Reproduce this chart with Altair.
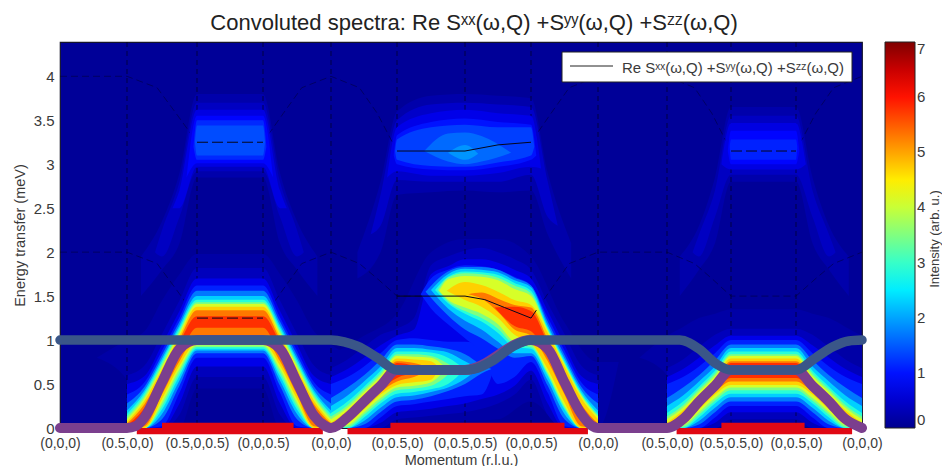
import altair as alt
import pandas as pd

FONT = "Liberation Sans"
INK = "#3a3a3a"
TICK_LABELS = ["(0,0,0)", "(0.5,0,0)", "(0.5,0,0.5)", "(0,0,0.5)", "(0,0,0)", "(0,0.5,0)", "(0,0.5,0.5)",
               "(0,0,0.5)", "(0,0,0)", "(0.5,0,0)", "(0.5,0.5,0)", "(0,0.5,0)", "(0,0,0)"]
TICK_PX = [0, 67, 137, 203, 271, 337, 405, 471, 538, 607, 671, 736, 802]
LEVELS = [0.35, 0.7, 1.1, 1.7, 2.3, 2.9, 3.5, 4.1, 4.7, 5.3, 5.8]

# Low band, first arch (left half; the arch is symmetric in the picture)
P1_Q = [1, 1.25, 1.5, 1.75, 2, 2.5, 3, 3.25, 3.5, 3.75, 4]
P1_HI = [[.6, .71, 1.07, 1.45, 1.82, 1.82], [.5, .59, .95, 1.33, 1.7, 1.7], [.38, .52, .88, 1.26, 1.62, 1.62],
         [.28, .47, .83, 1.21, 1.56, 1.56], [.2, .43, .79, 1.17, 1.5, 1.5], [.16, .4, .76, 1.14, 1.46, 1.46],
         [.13, .37, .73, 1.11, 1.43, 1.43], [.1, .34, .7, 1.08, 1.41, 1.41], [.07, .31, .67, 1.05, 1.38, 1.38],
         [.05, .27, .63, 1.01, 1.34, 1.34], [.03, .23, .59, .97, 1.27, 1.27]]
P1_LO = [[0, 0, 0, .15, .58, .58], [0, 0, 0, .28, .7, .7], [0, 0, .02, .4, .8, .8],
         [0, 0, .1, .48, .85, .85], [0, 0, .16, .54, .88, .88], [0, 0, .21, .59, .9, .9],
         [0, 0, .25, .63, .92, .92], [0, 0, .29, .67, .94, .94], [0, 0, .33, .71, .97, .97],
         [0, .02, .38, .76, 1.03, 1.03], [0, .08, .44, .82, 1.14, 1.14]]

# Low band, third arch
P3_Q = [9, 9.25, 9.5, 9.75, 10, 10.5, 11, 11.25, 11.5, 11.75, 12]
P3_HI = [[.68, .78, .92, 1.06, 1.13, 1.13], [.58, .67, .8, .94, 1.05, 1.05], [.5, .58, .7, .85, 1, 1],
         [.34, .46, .6, .77, .95, .95], [.25, .37, .53, .7, .91, .91], [.17, .3, .47, .65, .87, .87],
         [.13, .26, .44, .62, .84, .84], [.1, .23, .41, .59, .82, .82], [.06, .2, .38, .56, .79, .79],
         [.04, .17, .35, .53, .76, .76], [.02, .14, .33, .5, .74, .74]]
P3_LO = [[0, 0, 0, 0, .1, .1], [0, 0, 0, .06, .18, .18], [0, 0, 0, .12, .25, .25],
         [0, 0, .04, .18, .3, .3], [0, 0, .08, .23, .35, .35], [0, 0, .12, .28, .39, .39],
         [0, .01, .15, .31, .43, .43], [0, .03, .18, .34, .46, .46], [0, .05, .21, .38, .49, .49],
         [0, .07, .24, .41, .53, .53], [0, .09, .27, .44, .57, .57]]

# Middle arch: weakest levels span the whole arch
P2M_Q = [4, 4.25, 4.5, 4.75, 5, 5.25, 5.5, 5.75, 6, 6.25, 6.5, 6.75, 7, 7.25, 7.5, 7.75, 8]
P2M_HI = [[.68, .78, .92, 1.06, 1.13, 1.25, 1.85, 1.95, 2.02, 2.05, 2, 1.92, 1.8, 1.42, 1.07, .71, .6],
          [.58, .67, .8, .94, 1.05, 1.12, 1.75, 1.84, 1.92, 1.92, 1.88, 1.8, 1.7, 1.33, .95, .59, .5]]
P2M_LO = [[0, 0, 0, 0, .1, .12, .14, .16, .18, .22, .28, .38, .55, .15, 0, 0, 0],
          [0, 0, 0, .06, .18, .2, .22, .25, .28, .33, .38, .48, .65, .28, 0, 0, 0]]

# Middle arch: lower lobe (level, last q, pinch energy, hi, lo)
P2A_Q = [4, 4.25, 4.5, 4.75, 5, 5.25, 5.5, 5.75, 6, 6.25]
P2A = [(1.1, 6.45, .7, [.5, .58, .7, .85, 1, 1.02, 1, .98, .98, .95], [0, 0, 0, .12, .25, .27, .3, .33, .36, .38]),
       (1.7, 6.4, .67, [.34, .46, .6, .77, .95, .95, .93, .9, .84, .72], [0, 0, .04, .18, .3, .32, .36, .42, .5, .62]),
       (2.3, 6.2, .68, [.25, .37, .53, .7, .91, .91, .89, .86, .76], [0, 0, .08, .23, .35, .37, .41, .46, .56]),
       (2.9, 6.0, .67, [.17, .3, .47, .65, .87, .87, .86, .8], [0, 0, .12, .28, .39, .41, .44, .5]),
       (3.5, 5.85, .68, [.13, .26, .44, .62, .84, .84, .82], [0, .01, .15, .31, .43, .45, .48]),
       (4.1, 5.72, .68, [.1, .23, .41, .59, .82, .81, .8], [0, .03, .18, .34, .46, .48, .52]),
       (4.7, 5.62, .68, [.06, .2, .38, .56, .79, .78, .76], [0, .05, .21, .38, .49, .52, .55]),
       (5.3, 5.5, .68, [.04, .17, .35, .53, .76, .74], [0, .07, .24, .41, .53, .58]),
       (5.8, 5.38, .68, [.02, .14, .33, .5, .74, .71], [0, .09, .27, .44, .57, .63])]

# Middle arch: upper lobe and right leg (level, first q, pinch energy, hi, lo)
P2B_Q = [5.5, 5.75, 6, 6.25, 6.5, 6.75, 7, 7.25, 7.5, 7.75, 8]
P2B = [(1.1, 5.35, 1.52, [1.7, 1.8, 1.85, 1.84, 1.8, 1.72, 1.62, 1.26, .88, .52, .38], [1.36, 1.18, 1.02, .85, .5, .58, .75, .4, .02, 0, 0]),
       (1.7, 5.42, 1.55, [1.78, 1.83, 1.83, 1.8, 1.71, 1.62, 1.21, .83, .47, .28], [1.28, 1.12, 1.02, .9, .8, .82, .48, .1, 0, 0]),
       (2.3, 5.5, 1.57, [1.75, 1.81, 1.8, 1.77, 1.68, 1.6, 1.17, .79, .43, .2], [1.36, 1.22, 1.12, .98, .85, .85, .54, .16, 0, 0]),
       (2.9, 5.56, 1.57, [1.72, 1.78, 1.77, 1.74, 1.65, 1.56, 1.14, .76, .4, .16], [1.42, 1.3, 1.21, 1.08, .92, .9, .59, .21, 0, 0]),
       (3.5, 5.6, 1.57, [1.71, 1.76, 1.75, 1.71, 1.62, 1.53, 1.12, .74, .38, .14], [1.44, 1.33, 1.25, 1.13, .95, .92, .61, .23, 0, 0]),
       (4.1, 5.62, 1.56, [1.69, 1.73, 1.72, 1.68, 1.58, 1.5, 1.11, .73, .37, .13], [1.46, 1.37, 1.3, 1.18, .98, .95, .63, .25, 0, 0]),
       (4.7, 5.73, 1.56, [1.66, 1.625, 1.55, 1.455, 1.4, 1.08, .7, .34, .1], [1.455, 1.38, 1.25, 1.06, .97, .67, .29, 0, 0]),
       (5.3, 6.05, 1.52, [1.54, 1.47, 1.4, 1.37, 1.01, .63, .27, .05], [1.47, 1.32, 1.12, 1.05, .76, .38, .02, 0]),
       (5.8, 6.45, 1.37, [1.38, 1.33, .97, .59, .23, .03], [1.16, 1.1, .82, .44, .08, 0])]

# Weak high band and faint glow (level, q, hi, lo)
HIGH = [(.22, [1.2, 1.5, 1.75, 2, 2.5, 3, 3.25, 3.5, 3.8], [1.95, 2.35, 2.9, 3.8, 3.8, 3.8, 2.9, 2.35, 1.95], [1.5, 1.8, 2.1, 2.85, 2.85, 2.85, 2.1, 1.8, 1.5]),
        (.4, [1.4, 1.5, 1.75, 2, 2.5, 3, 3.25, 3.5, 3.6], [2, 2.25, 2.8, 3.7, 3.7, 3.7, 2.8, 2.25, 2], [2, 1.95, 2.4, 2.92, 2.92, 2.92, 2.4, 1.95, 2]),
        (.65, [1.65, 1.75, 2, 2.5, 3, 3.25, 3.35], [2.5, 2.7, 3.62, 3.62, 3.62, 2.7, 2.5], [2.5, 2.5, 2.97, 2.97, 2.97, 2.5, 2.5]),
        (.9, [1.85, 2, 2.5, 3, 3.15], [2.85, 3.55, 3.55, 3.55, 2.85], [2.85, 3.01, 3.01, 3.01, 2.85]),
        (1.15, [1.95, 2, 2.5, 3, 3.05], [3.2, 3.5, 3.5, 3.5, 3.2], [3.2, 3.05, 3.05, 3.05, 3.2]),
        (1.4, [1.97, 2, 2.5, 3, 3.03], [3.25, 3.44, 3.44, 3.44, 3.25], [3.25, 3.1, 3.1, 3.1, 3.25]),
        (.22, [4.4, 4.75, 5, 5.5, 6, 6.5, 7, 7.25, 7.6], [2, 2.8, 3.6, 3.78, 3.8, 3.78, 3.75, 2.9, 2.1], [1.7, 2, 2.65, 2.68, 2.7, 2.68, 2.7, 2.2, 1.7]),
        (.45, [4.6, 4.75, 5, 5.5, 6, 6.5, 7, 7.25, 7.4], [2.2, 2.65, 3.5, 3.68, 3.7, 3.68, 3.65, 2.8, 2.3], [2.2, 2.3, 2.82, 2.8, 2.8, 2.8, 2.88, 2.4, 2.3]),
        (.7, [4.85, 5, 5.5, 6, 6.5, 7, 7.15], [2.85, 3.42, 3.58, 3.62, 3.58, 3.55, 2.95], [2.85, 2.92, 2.87, 2.87, 2.9, 2.97, 2.95]),
        (1.0, [4.95, 5, 5.5, 6, 6.5, 7, 7.08], [3.1, 3.33, 3.48, 3.52, 3.48, 3.45, 3.1], [3.1, 3, 2.94, 2.93, 2.97, 3.05, 3.1]),
        (1.3, [4.97, 5, 5.5, 6, 6.5, 7, 7.05], [3.15, 3.28, 3.42, 3.45, 3.42, 3.42, 3.2], [3.15, 3.05, 2.98, 2.97, 3.02, 3.1, 3.2]),
        (1.6, [5.4, 5.75, 6, 6.25, 6.7], [3.15, 3.35, 3.36, 3.32, 3.13], [3.15, 3.03, 3, 3.03, 3.13]),
        (1.9, [5.75, 6, 6.2], [3.13, 3.22, 3.12], [3.13, 3.05, 3.12]),
        (.22, [9.2, 9.5, 9.75, 10, 10.5, 11, 11.25, 11.5, 11.8], [1.95, 2.3, 2.85, 3.65, 3.65, 3.65, 2.85, 2.3, 1.95], [1.5, 1.8, 2.1, 2.8, 2.8, 2.8, 2.1, 1.8, 1.5]),
        (.4, [9.4, 9.5, 9.75, 10, 10.5, 11, 11.25, 11.5, 11.6], [2, 2.2, 2.7, 3.55, 3.55, 3.55, 2.7, 2.2, 2], [2, 1.95, 2.4, 2.88, 2.88, 2.88, 2.4, 1.95, 2]),
        (.65, [9.85, 10, 10.5, 11, 11.15], [3, 3.47, 3.47, 3.47, 3], [3, 2.94, 2.94, 2.94, 3]),
        (.9, [9.95, 10, 10.5, 11, 11.05], [3.15, 3.38, 3.38, 3.38, 3.15], [3.15, 3, 3, 3, 3.15]),
        (1.1, [9.98, 10, 10.5, 11, 11.02], [3.2, 3.28, 3.28, 3.28, 3.2], [3.2, 3.05, 3.05, 3.05, 3.2]),
        (.18, [.55, 1, 1.25, 1.5, 1.75, 2, 3, 3.25, 3.5, 3.75, 4, 4.3], [.8, 1, 1.1, 1.45, 1.75, 1.98, 1.98, 1.75, 1.45, 1.1, .95, .8], [.8, .55, .2, 0, 0, .45, .45, 0, 0, 0, 0, .8]),
        (.18, [3.7, 4, 4.5, 5, 5.5, 6, 6.5, 7, 7.5, 8, 8.3], [.8, .85, 1.05, 1.3, 2, 2.15, 2.15, 1.95, 1.2, .75, .75], [.8, .5, 0, 0, .05, .08, .1, .3, 0, 0, .75]),
        (.18, [8.6, 9, 9.25, 9.5, 9.75, 10, 11, 11.25, 11.5, 11.75, 12], [.8, 1.05, 1.15, 1.25, 1.3, 1.35, 1.35, 1.3, 1.25, 1.15, 1.05], [.8, .6, .2, 0, 0, .03, .03, 0, 0, 0, 0])]

# Thin dispersion curves
UP_Q = [0, 1, 1.43, 1.7, 2, 3, 3.3, 3.57, 4, 4.43, 4.7, 5, 6, 6.5, 7, 7.3, 7.57, 8, 9, 9.43, 9.7, 10, 11, 11.3, 11.57, 12]
UP_E = [4, 4, 3.87, 3.58, 3.25, 3.25, 3.58, 3.87, 4, 3.87, 3.58, 3.15, 3.15, 3.22, 3.25, 3.58, 3.87, 4, 4, 3.87, 3.58, 3.15, 3.15, 3.58, 3.87, 4]
DN_Q = [0, 1, 1.43, 1.7, 2, 3, 3.3, 3.57, 4, 4.43, 4.7, 5, 6, 6.5, 7, 7.3, 7.57, 8, 9, 9.43, 9.7, 10, 11, 11.3, 11.57, 12]
DN_E = [2, 2, 1.87, 1.58, 1.25, 1.25, 1.58, 1.87, 2, 1.87, 1.7, 1.5, 1.5, 1.42, 1.25, 1.58, 1.87, 2, 2, 1.87, 1.7, 1.5, 1.5, 1.7, 1.87, 2]
DARK_SEGS = [("d1", [2, 3], [3.25, 3.25], True), ("d2", [2, 3], [1.25, 1.25], True), ("d3", [10, 11], [3.15, 3.15], True),
             ("s1", [5, 6, 6.5, 7], [3.15, 3.15, 3.22, 3.25], False), ("s2", [5, 6, 6.3, 6.6, 7, 7.08], [1.5, 1.5, 1.46, 1.37, 1.25, 1.34], False)]

# Thick mode lines
PURPLE_Q = [0, 1, 1.12, 1.25, 1.5, 1.75, 2, 3, 3.25, 3.5, 3.75, 3.9, 4, 4.25, 4.5, 4.75, 5, 6, 7, 7.25, 7.5, 7.75, 7.9, 8, 9, 9.25, 9.5, 9.75, 10, 11, 11.25, 11.5, 11.75, 12]
PURPLE_E = [0, 0, .02, .12, .52, .9, 1, 1, .9, .52, .14, .03, 0, .12, .3, .48, .66, .66, 1, .9, .52, .16, .03, 0, 0, .1, .3, .48, .66, .66, .48, .3, .1, 0]
BLUE_Q = [0, 4, 4.2, 4.4, 4.7, 5, 6, 6.13, 6.43, 6.73, 7, 9, 9.2, 9.5, 9.77, 10, 11, 11.3, 11.55, 11.8, 12]
BLUE_E = [1, 1, .98, .93, .8, .66, .66, .67, .77, .93, 1, 1, 1, .9, .73, .66, .66, .8, .92, .99, 1]

# Red bars along zero energy
RED_LOW = [(1.14, 3.88), (4.25, 7.85), (9.15, 11.85)]
RED_HIGH = [(1.5, 3.45), (4.9, 7.5), (9.85, 11.13)]

rows = []
pid = 0


def add(level, qs, hi, lo):
    global pid
    pid += 1
    for q, h, l in zip(qs, hi, lo):
        rows.append({"p": f"{round(level * 1000):05d}-{pid:03d}", "I": level, "q": q, "hi": h, "lo": l})


def mirror(a):
    return a + a[-2::-1]


for lv, qs, hi, lo in HIGH:
    add(lv, qs, hi, lo)
for i in range(2):
    add(LEVELS[i], P2M_Q, P2M_HI[i], P2M_LO[i])
for lv, end, e, hi, lo in P2A:
    n = len(hi)
    add(lv, P2A_Q[:n] + [end], hi + [e], lo + [e])
for lv, start, e, hi, lo in P2B:
    n = len(hi)
    add(lv, [start] + P2B_Q[-n:], [e] + hi, [e] + lo)
for i, lv in enumerate(LEVELS):
    add(lv, P1_Q, mirror(P1_HI[i]), mirror(P1_LO[i]))
    add(lv, P3_Q, mirror(P3_HI[i]), mirror(P3_LO[i]))

df = pd.DataFrame(rows).sort_values(["p", "q"]).reset_index(drop=True)

xs = alt.Scale(domain=list(range(13)), range=TICK_PX)
ys = alt.Scale(domain=[0, 4.39], nice=False, zero=False)
jet = alt.Scale(domain=[0, .875, 2.625, 4.375, 6.125, 7],
                range=["#00008f", "#0000ff", "#00ffff", "#ffff00", "#ff0000", "#800000"], interpolate="rgb")
X = alt.X("q:Q", scale=xs, title="Momentum (r.l.u.)",
          axis=alt.Axis(values=list(range(13)), grid=False, tickSize=0, domain=False, labelOverlap=False,
                        labelExpr="[" + ",".join(f"'{t}'" for t in TICK_LABELS) + "][datum.value]",
                        labelFontSize=14, labelPadding=8, labelFlush=False, titleFontSize=14.5, titlePadding=3))
Y = alt.Y("hi:Q", scale=ys, title="Energy transfer (meV)",
          axis=alt.Axis(values=[0, .5, 1, 1.5, 2, 2.5, 3, 3.5, 4], grid=False, tickSize=0, domain=False,
                        labelFontSize=15, labelPadding=6, format="~g", titleFontSize=14.5, titlePadding=6))

color_legend = alt.Legend(
    orient="none", legendX=825, legendY=0, gradientLength=386, gradientThickness=30, title=None,
    values=list(range(8)), labelFontSize=15, labelColor=INK, labelFont=FONT, direction="vertical",
    gradientStrokeColor="#222222", gradientStrokeWidth=1, labelOffset=2, labelBaseline="middle")
areas_low = alt.Chart(df[df.I <= .45]).mark_area(interpolate="monotone", clip=False).encode(
    x=X, y=Y, y2="lo:Q", detail="p:N", color=alt.Color("I:Q", scale=jet, legend=color_legend))
areas_high = alt.Chart(df[df.I > .45]).mark_area(interpolate="monotone", clip=False).encode(
    x=X, y=Y, y2="lo:Q", detail="p:N", color=alt.Color("I:Q", scale=jet, legend=color_legend))

rule_df = pd.DataFrame({"q": list(range(1, 12))})
vrules = alt.Chart(rule_df).mark_rule(color="#000020", strokeWidth=1.5, strokeDash=[5, 4], opacity=.45).encode(
    x=alt.X("q:Q", scale=xs))

thin = pd.concat([pd.DataFrame({"s": "u", "q": UP_Q, "e": UP_E}), pd.DataFrame({"s": "d", "q": DN_Q, "e": DN_E})])
thin_l = alt.Chart(thin).mark_line(color="#000030", strokeWidth=1, strokeDash=[7, 4], opacity=.5).encode(
    x=alt.X("q:Q", scale=xs), y=alt.Y("e:Q", scale=ys), detail="s:N")
seg_layers = []
for name, q, e, dashed in DARK_SEGS:
    m = {"color": "#06061c", "strokeWidth": 1}
    if dashed:
        m["strokeDash"] = [11, 4]
    seg_layers.append(alt.Chart(pd.DataFrame({"q": q, "e": e})).mark_line(**m).encode(
        x=alt.X("q:Q", scale=xs), y=alt.Y("e:Q", scale=ys)))

red_low = pd.DataFrame(RED_LOW, columns=["a", "b"]).assign(e0=-.07, e1=0.0)
red_high = pd.DataFrame(RED_HIGH, columns=["a", "b"]).assign(e0=0.0, e1=.06)
red = alt.Chart(pd.concat([red_low, red_high])).mark_rect(color="#e00814", clip=False).encode(
    x=alt.X("a:Q", scale=xs), x2="b:Q", y=alt.Y("e0:Q", scale=ys), y2="e1:Q")

purple = alt.Chart(pd.DataFrame({"q": PURPLE_Q, "e": PURPLE_E})).mark_line(
    color="#7b3f8e", strokeWidth=10, strokeCap="round", strokeJoin="round", interpolate="monotone", clip=False).encode(
    x=alt.X("q:Q", scale=xs), y=alt.Y("e:Q", scale=ys))
blue = alt.Chart(pd.DataFrame({"q": BLUE_Q, "e": BLUE_E})).mark_line(
    color="#3a5688", strokeWidth=9.5, strokeCap="round", strokeJoin="round", interpolate="monotone", clip=False).encode(
    x=alt.X("q:Q", scale=xs), y=alt.Y("e:Q", scale=ys))

one = pd.DataFrame({"t": ["Re Sˣˣ(ω,Q) +Sʸʸ(ω,Q) +Sᶻᶻ(ω,Q)"]})
box = alt.Chart(one).mark_rect(fill="white", stroke="#222222", strokeWidth=1).encode(
    x=alt.value(502), x2=alt.value(792), y=alt.value(10), y2=alt.value(40))
box_line = alt.Chart(one).mark_rule(color="#222222", strokeWidth=1).encode(
    x=alt.value(510), x2=alt.value(553), y=alt.value(24))
box_text = alt.Chart(one).mark_text(align="right", baseline="middle", font=FONT, fontSize=15, color=INK).encode(
    text="t:N", x=alt.value(784), y=alt.value(26))
side = alt.Chart(pd.DataFrame({"t": ["Intensity (arb. u.)"]})).mark_text(
    angle=270, align="center", baseline="middle", font=FONT, fontSize=13, color=INK).encode(
    text="t:N", x=alt.value(875), y=alt.value(197))

chart = alt.layer(areas_low, thin_l, vrules, areas_high, *seg_layers, red, purple, blue, box, box_line, box_text, side).properties(
    width=802, height=386,
    autosize=alt.AutoSizeParams(type="none"),
    padding={"left": 52, "top": 34, "right": 80, "bottom": 38},
    title=alt.TitleParams("Convoluted spectra: Re Sˣˣ(ω,Q) +Sʸʸ(ω,Q) +Sᶻᶻ(ω,Q)", font=FONT, fontSize=22,
                          fontWeight="normal", color="#222222", anchor="middle", dx=13, offset=6),
).configure_view(fill="#000098", stroke="#15152a", strokeWidth=1.2).configure_axis(
    labelFont=FONT, titleFont=FONT, labelColor=INK, titleColor=INK, titleFontWeight="normal")

chart.save("out.html", embed_options={"renderer": "svg", "actions": False})
